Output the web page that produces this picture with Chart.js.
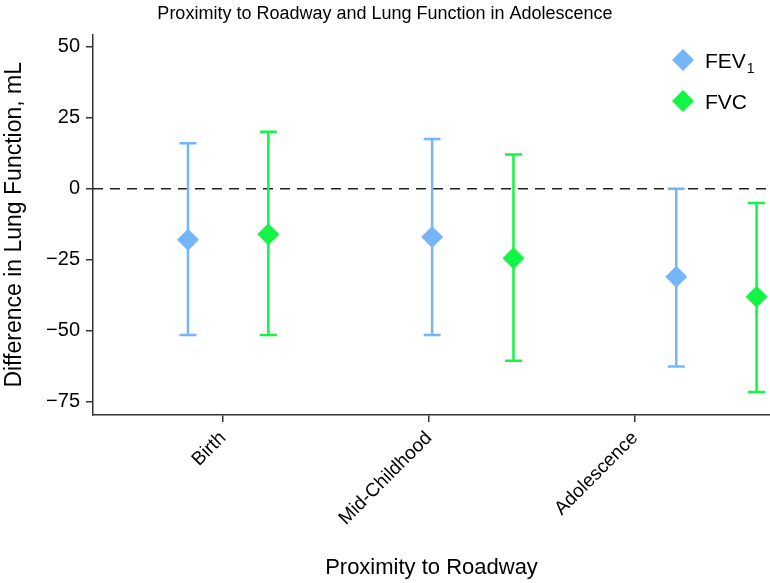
<!DOCTYPE html>
<html>
<head>
<meta charset="utf-8">
<title>Proximity to Roadway and Lung Function</title>
<script src="https://cdn.jsdelivr.net/npm/chart.js@4.4.0/dist/chart.umd.min.js"></script>
<style>
    body { margin: 0; background: #fff; }
    #chart { display: block; }
</style>
</head>
<body>
<canvas id="chart" width="770" height="583"></canvas>
<script>
// 类别与刻度
const categories = ['Birth', 'Mid-Childhood', 'Adolescence'];
const tickPositions = [1, 2, 3];
const yTicks = [-75, -50, -25, 0, 25, 50];

// FEV1 估计值与置信区间 (mL)
const fevX = [0.83, 2.015, 3.2];
const fevMean = [-18, -17, -31];
const fevLow = [-51.5, -51.5, -62.5];
const fevHigh = [16, 17.5, 0];

// FVC 估计值与置信区间 (mL)
const fvcX = [1.22, 2.41, 3.59];
const fvcMean = [-16, -24.5, -38];
const fvcLow = [-51.5, -60.5, -71.5];
const fvcHigh = [20, 12, -5];

const BLUE = '#76b5fb';
const GREEN = '#12f545';
const FONT = "'Liberation Sans', Arial, Helvetica, sans-serif";

function toPoints(xs, ys) {
    return xs.map((x, i) => ({ x: x, y: ys[i] }));
}

// 误差线 + 零线
const errorBarPlugin = {
    id: 'errorBars',
    beforeDatasetsDraw(chart) {
        const { ctx, chartArea, scales: { x, y } } = chart;
        ctx.save();

        // 零参考虚线
        const y0 = y.getPixelForValue(0);
        ctx.setLineDash([10, 7]);
        ctx.strokeStyle = '#222';
        ctx.lineWidth = 1.5;
        ctx.beginPath();
        ctx.moveTo(chartArea.left, y0);
        ctx.lineTo(chartArea.right, y0);
        ctx.stroke();
        ctx.setLineDash([]);

        chart.data.datasets.forEach(ds => {
            ctx.strokeStyle = ds.borderColor;
            ctx.lineWidth = 2.5;
            ds.data.forEach((p, i) => {
                const px = x.getPixelForValue(p.x);
                const top = y.getPixelForValue(ds.highs[i]);
                const bot = y.getPixelForValue(ds.lows[i]);
                ctx.beginPath();
                ctx.moveTo(px, top);
                ctx.lineTo(px, bot);
                ctx.moveTo(px - 8.5, top);
                ctx.lineTo(px + 8.5, top);
                ctx.moveTo(px - 8.5, bot);
                ctx.lineTo(px + 8.5, bot);
                ctx.stroke();
            });
        });
        ctx.restore();
    }
};

// 图例（带下标）
const legendPlugin = {
    id: 'customLegend',
    afterDraw(chart) {
        const { ctx } = chart;
        const items = [
            { color: BLUE, text: 'FEV', sub: '1', y: 60 },
            { color: GREEN, text: 'FVC', sub: '', y: 101 }
        ];
        ctx.save();
        items.forEach(it => {
            const cx = 683;
            ctx.fillStyle = it.color;
            ctx.beginPath();
            ctx.moveTo(cx, it.y - 11);
            ctx.lineTo(cx + 11, it.y);
            ctx.lineTo(cx, it.y + 11);
            ctx.lineTo(cx - 11, it.y);
            ctx.closePath();
            ctx.fill();

            ctx.fillStyle = '#000';
            ctx.textBaseline = 'alphabetic';
            ctx.textAlign = 'left';
            ctx.font = `21px ${FONT}`;
            ctx.fillText(it.text, 705, it.y + 8);
            if (it.sub) {
                const w = ctx.measureText(it.text).width;
                ctx.font = `14px ${FONT}`;
                ctx.fillText(it.sub, 705 + w + 1, it.y + 13);
            }
        });
        ctx.restore();
    }
};

const ctx = document.getElementById('chart').getContext('2d');
new Chart(ctx, {
    type: 'scatter',
    data: {
        datasets: [
            {
                label: 'FEV1',
                data: toPoints(fevX, fevMean),
                lows: fevLow,
                highs: fevHigh,
                backgroundColor: BLUE,
                borderColor: BLUE,
                pointStyle: 'rectRot',
                pointRadius: 11,
                pointBorderWidth: 0
            },
            {
                label: 'FVC',
                data: toPoints(fvcX, fvcMean),
                lows: fvcLow,
                highs: fvcHigh,
                backgroundColor: GREEN,
                borderColor: GREEN,
                pointStyle: 'rectRot',
                pointRadius: 11,
                pointBorderWidth: 0
            }
        ]
    },
    options: {
        responsive: false,
        animation: false,
        devicePixelRatio: 1,
        layout: { padding: 0, autoPadding: false },
        plugins: {
            legend: { display: false },
            tooltip: { enabled: false },
            title: {
                display: true,
                text: 'Proximity to Roadway and Lung Function in Adolescence',
                color: '#000',
                font: { family: FONT, size: 18, weight: 'normal' },
                padding: { top: 3, bottom: 10 }
            }
        },
        scales: {
            x: {
                type: 'linear',
                min: 0.369,
                max: 3.655,
                afterBuildTicks(scale) {
                    scale.ticks = tickPositions.map(v => ({ value: v }));
                },
                afterFit(scale) {
                    scale.height = 168;
                    scale.paddingLeft = 0;
                    scale.paddingRight = 0;
                },
                ticks: {
                    autoSkip: false,
                    minRotation: 45,
                    maxRotation: 45,
                    padding: 5,
                    color: '#000',
                    font: { family: FONT, size: 19 },
                    callback: (v) => categories[tickPositions.indexOf(v)]
                },
                grid: {
                    drawOnChartArea: false,
                    drawTicks: true,
                    tickLength: 7,
                    color: '#333',
                    lineWidth: 1.5
                },
                border: { display: true, color: '#333', width: 1.5 },
                title: {
                    display: true,
                    text: 'Proximity to Roadway',
                    color: '#000',
                    font: { family: FONT, size: 22 },
                    padding: { top: 0, bottom: 2 }
                }
            },
            y: {
                min: -79.6,
                max: 54.2,
                afterBuildTicks(scale) {
                    scale.ticks = yTicks.map(v => ({ value: v }));
                },
                afterFit(scale) {
                    scale.width = 93;
                },
                ticks: {
                    padding: 6,
                    color: '#000',
                    font: { family: FONT, size: 20 },
                    callback: (v) => String(v).replace('-', '\u2212')
                },
                grid: {
                    drawOnChartArea: false,
                    drawTicks: true,
                    tickLength: 7,
                    color: '#333',
                    lineWidth: 1.5
                },
                border: { display: true, color: '#333', width: 1.5 },
                title: {
                    display: true,
                    text: 'Difference in Lung Function, mL',
                    color: '#000',
                    font: { family: FONT, size: 23 },
                    padding: { top: 1, bottom: 0 }
                }
            }
        }
    },
    plugins: [errorBarPlugin, legendPlugin]
});
</script>
</body>
</html>
